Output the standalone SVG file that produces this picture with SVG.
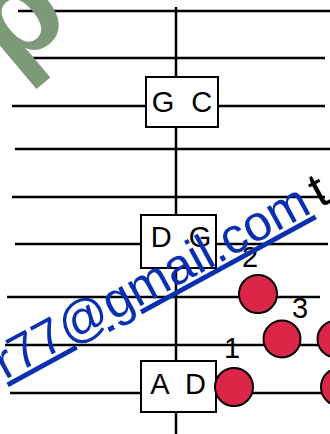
<svg xmlns="http://www.w3.org/2000/svg" width="330" height="434" viewBox="0 0 330 434">
<style>
.ln{stroke:#000;stroke-width:2.5;fill:none}
.box{fill:#fff;stroke:#000;stroke-width:2}
.bt{font-family:"Liberation Sans",Arial,sans-serif;font-size:29px;fill:#000;text-anchor:middle}
.dot{fill:#dc2648;stroke:#000;stroke-width:2}
.num{font-family:"Liberation Sans",Arial,sans-serif;font-size:29px;fill:#000;text-anchor:middle}
</style>
<rect width="330" height="434" fill="#fff"/>
<g id="connectors">
<line class="ln" x1="18" y1="11" x2="330" y2="11"/>
<line class="ln" x1="30" y1="58" x2="325" y2="58"/>
<line class="ln" x1="12" y1="106" x2="146" y2="106"/>
<line class="ln" x1="218" y1="106" x2="325" y2="106"/>
<line class="ln" x1="15" y1="149" x2="330" y2="149"/>
<line class="ln" x1="12" y1="197" x2="325" y2="197"/>
<line class="ln" x1="15" y1="244" x2="141" y2="244"/>
<line class="ln" x1="216" y1="244" x2="328" y2="244"/>
<line class="ln" x1="7" y1="297" x2="320" y2="297"/>
<line class="ln" x1="5" y1="345" x2="330" y2="345"/>
<line class="ln" x1="10" y1="393" x2="141" y2="393"/>
<line class="ln" x1="216" y1="393" x2="330" y2="393"/>
<line class="ln" x1="176" y1="7" x2="176" y2="434"/>
</g>
<g id="watermark-p">
<text x="0" y="0" transform="translate(11.7,74) rotate(-40)" font-family="Liberation Sans,Arial,sans-serif" font-weight="bold" font-size="132" fill="#7d9a78">p</text>
</g>
<g id="node-gc">
<rect class="box" x="146" y="77" width="72" height="50"/>
<text class="bt" x="182" y="112" word-spacing="9">G C</text>
</g>
<g id="node-dg">
<rect class="box" x="141" y="215" width="75" height="53"/>
<text class="bt" x="181" y="247" word-spacing="9">D G</text>
</g>
<g id="node-ad">
<rect class="box" x="141" y="361" width="75" height="51"/>
<text class="bt" x="178" y="394" word-spacing="9">A D</text>
</g>
<g id="dot-2">
<circle class="dot" cx="258" cy="294" r="19"/>
<text class="num" x="250" y="267">2</text>
</g>
<g id="dot-3">
<circle class="dot" cx="282" cy="339" r="18.5"/>
<text class="num" x="300" y="318">3</text>
</g>
<g id="dot-3b">
<circle class="dot" cx="336" cy="339" r="18.5"/>
</g>
<g id="dot-1">
<circle class="dot" cx="234" cy="387" r="19"/>
<text class="num" x="232" y="358">1</text>
</g>
<g id="dot-1b">
<circle class="dot" cx="340" cy="387" r="19"/>
</g>
<g id="watermark-mail">
<text x="5" y="380" transform="rotate(-28.6 5 380)" font-family="Liberation Sans,Arial,sans-serif" font-size="50"><tspan fill="#0a2fb0" text-decoration="underline">r77@gmail.com</tspan><tspan fill="#000" dx="-6"> t</tspan></text>
</g>
</svg>
